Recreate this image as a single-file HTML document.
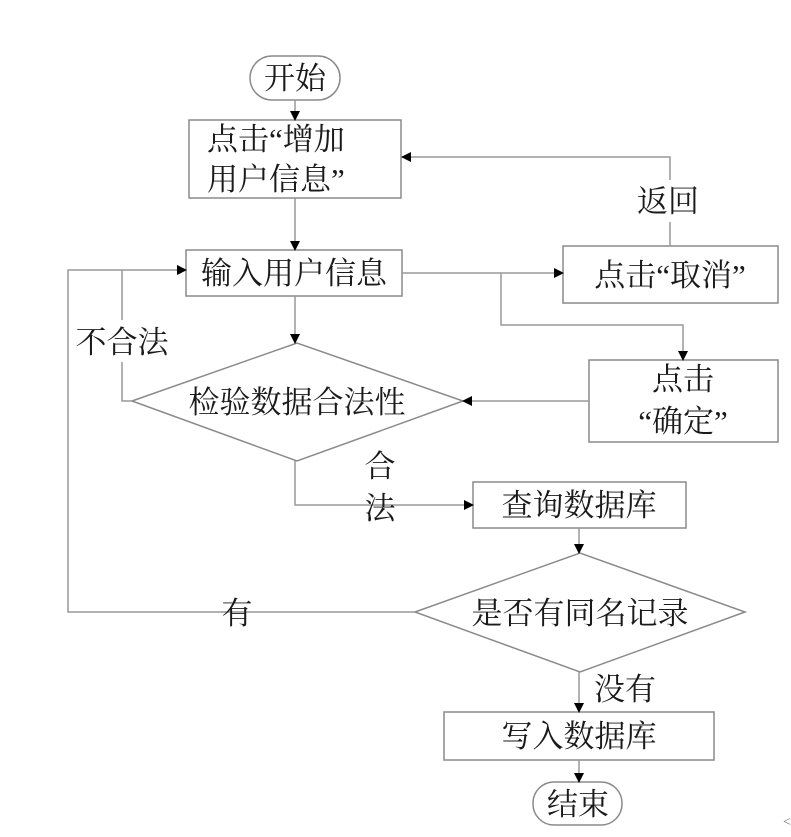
<!DOCTYPE html>
<html><head><meta charset="utf-8"><style>
html,body{margin:0;padding:0;background:#fff;}
svg text{font-family:"Liberation Serif","Noto Serif CJK SC",serif;fill:#1a1a1a;font-size:31px;}
</style></head><body>
<svg width="791" height="832" viewBox="0 0 791 832" xmlns="http://www.w3.org/2000/svg">
<defs><marker id="a" markerWidth="10" markerHeight="10" refX="9" refY="5" orient="auto" markerUnits="userSpaceOnUse"><path d="M0,0 L10,5 L0,10 z" fill="#000"/></marker></defs>
<g fill="none" stroke="#8a8a8a" stroke-width="1.5">
<rect x="250" y="56" width="90" height="44" rx="22"/>
<rect x="189" y="120" width="212" height="78"/>
<rect x="186" y="250" width="216" height="46"/>
<rect x="563" y="246" width="215" height="57"/>
<rect x="589" y="360" width="189" height="82"/>
<polygon points="132,401 297,343 463,401 297,461"/>
<rect x="473" y="482" width="213" height="46"/>
<polygon points="415,612 580,553 745,612 580,672"/>
<rect x="444" y="712" width="270" height="48"/>
<rect x="533" y="782" width="89" height="43" rx="21"/>
</g>
<g fill="none" stroke="#999" stroke-width="1.5">
<line x1="295" y1="100" x2="295" y2="120" marker-end="url(#a)"/>
<line x1="295" y1="198" x2="295" y2="250" marker-end="url(#a)"/>
<polyline points="670,246 670,157 402,157" marker-end="url(#a)"/>
<line x1="402" y1="273" x2="563" y2="273" marker-end="url(#a)"/>
<polyline points="501,273 501,325 683,325 683,360" marker-end="url(#a)"/>
<line x1="295" y1="296" x2="295" y2="343" marker-end="url(#a)"/>
<line x1="589" y1="401" x2="463" y2="401" marker-end="url(#a)"/>
<polyline points="132,401 122,401 122,270"/>
<polyline points="415,612 68,612 68,270 186,270" marker-end="url(#a)"/>
<polyline points="295,461 295,505 473,505" marker-end="url(#a)"/>
<line x1="579" y1="528" x2="579" y2="553" marker-end="url(#a)"/>
<line x1="579" y1="672" x2="579" y2="712" marker-end="url(#a)"/>
<line x1="579" y1="760" x2="579" y2="782" marker-end="url(#a)"/>
</g>
<rect x="630" y="180" width="68" height="42" fill="#fff"/>
<rect x="72" y="320" width="100" height="42" fill="#fff"/>
<text x="295" y="89" text-anchor="middle">开始</text>
<text x="207" y="150">点击“增加</text>
<text x="207" y="190">用户信息”</text>
<text x="294" y="284" text-anchor="middle">输入用户信息</text>
<text x="668" y="212" text-anchor="middle">返回</text>
<text x="670" y="286" text-anchor="middle">点击“取消”</text>
<text x="683" y="390" text-anchor="middle">点击</text>
<text x="683" y="432" text-anchor="middle">“确定”</text>
<text x="122" y="353" text-anchor="middle">不合法</text>
<text x="297" y="413" text-anchor="middle">检验数据合法性</text>
<text x="380" y="477" text-anchor="middle">合</text>
<text x="380" y="519" text-anchor="middle">法</text>
<text x="579" y="516" text-anchor="middle">查询数据库</text>
<text x="580" y="624" text-anchor="middle">是否有同名记录</text>
<text x="237" y="624" text-anchor="middle">有</text>
<text x="625" y="700" text-anchor="middle">没有</text>
<text x="579" y="747" text-anchor="middle">写入数据库</text>
<text x="578" y="815" text-anchor="middle">结束</text>
<text x="783" y="826" style="font-size:14px;fill:#777">&lt;</text>
</svg>
</body></html>
